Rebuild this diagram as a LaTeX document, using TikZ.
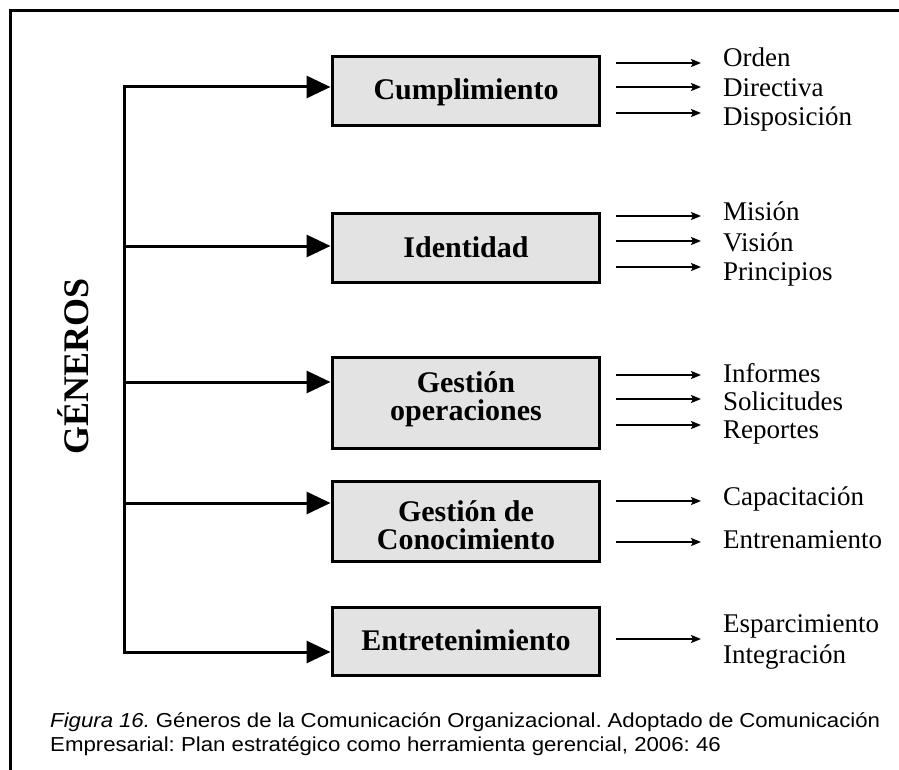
\documentclass[tikz,border=0pt]{standalone}
\usepackage{fontspec}
\setmainfont{Liberation Serif}
\newfontfamily\capfont[FakeStretch=1.1]{Liberation Sans}
\usetikzlibrary{arrows.meta}
\definecolor{boxgray}{HTML}{E3E3E3}
\frenchspacing
\begin{document}
\begin{tikzpicture}[x=1pt,y=-1pt,
  genbox/.style={draw=black, fill=boxgray, line width=3pt, minimum width=267pt, inner sep=0pt},
  boxtxt/.style={anchor=base, inner sep=0pt, font=\bfseries\fontsize{30}{34}\selectfont},
  itemtxt/.style={anchor=base west, inner sep=0pt, font=\fontsize{27}{30}\selectfont},
  bigarrow/.style={line width=3pt, line cap=rect, -{Triangle[length=24pt,width=22pt]}},
  trunkline/.style={line width=3pt, line cap=rect},
  smallarrow/.style={line width=2.2pt, -{Stealth[length=10pt,width=8pt,inset=2pt]}},
  frameline/.style={line width=3pt},
  captxt/.style={anchor=base west, inner sep=0pt, font=\capfont\fontsize{20.2}{24}\selectfont\frenchspacing}
]
\useasboundingbox (0,0) rectangle (899,770);
% frame
\draw[frameline] (10,770) -- (10,11) -- (899,11);

% boxes
\node[genbox, minimum height=69pt] (b1) at (465.5,91.5) {};
\node[genbox, minimum height=69pt] (b2) at (465.5,247.5) {};
\node[genbox, minimum height=91pt] (b3) at (465.5,402.5) {};
\node[genbox, minimum height=80pt] (b4) at (465.5,521) {};
\node[genbox, minimum height=68pt] (b5) at (465.5,641) {};

% box texts
\node[boxtxt] (t1) at (466,100) {Cumplimiento};
\node[boxtxt] (t2) at (466,257) {Identidad};
\node[boxtxt] (t3a) at (466,392) {Gestión};
\node[boxtxt] (t3b) at (466,420) {operaciones};
\node[boxtxt] (t4a) at (466,521) {Gestión de};
\node[boxtxt] (t4b) at (466,549) {Conocimiento};
\node[boxtxt] (t5) at (466,650) {Entretenimiento};

% genre label
\node[rotate=90, anchor=base, inner sep=0pt, font=\bfseries\fontsize{36}{40}\selectfont] (gen) at (88,366) {GÉNEROS};

% trunk and main arrows
\coordinate (c1) at (124,87);
\coordinate (c2) at (124,246);
\coordinate (c3) at (124,382);
\coordinate (c4) at (124,503);
\coordinate (c5) at (124,652);
\draw[trunkline] (c1) -- (c5);
\draw[bigarrow] (c1) -- (b1.west |- c1);
\draw[bigarrow] (c2) -- (b2.west |- c2);
\draw[bigarrow] (c3) -- (b3.west |- c3);
\draw[bigarrow] (c4) -- (b4.west |- c4);
\draw[bigarrow] (c5) -- (b5.west |- c5);

% right items
\node[itemtxt] (i11) at (723,67) {Orden};
\node[itemtxt] (i12) at (723,97) {Directiva};
\node[itemtxt] (i13) at (723,126) {Disposición};
\node[itemtxt] (i21) at (723,221) {Misión};
\node[itemtxt] (i22) at (723,251) {Visión};
\node[itemtxt] (i23) at (723,280) {Principios};
\node[itemtxt] (i31) at (723,382) {Informes};
\node[itemtxt] (i32) at (723,410) {Solicitudes};
\node[itemtxt] (i33) at (723,438) {Reportes};
\node[itemtxt] (i41) at (723,505) {Capacitación};
\node[itemtxt] (i42) at (723,548) {Entrenamiento};
\node[itemtxt] (i51) at (723,632) {Esparcimiento};
\node[itemtxt] (i52) at (723,663) {Integración};

% small arrows
\foreach \n/\yy in {11/63, 12/87, 13/113, 21/216, 22/241, 23/267, 31/375, 32/399, 33/425, 41/501, 42/542, 51/639}{
  \coordinate (s\n) at (616,\yy);
  \coordinate (e\n) at (701,\yy);
  \draw[smallarrow] (s\n) -- (e\n);
}

% caption
\node[captxt] (cap1) at (50,727) {\makebox[830pt][s]{\textit{Figura 16.} Géneros de la Comunicación Organizacional. Adoptado de Comunicación}};
\node[captxt] (cap2) at (50,751) {Empresarial: Plan estratégico como herramienta gerencial, 2006: 46};
\end{tikzpicture}
\end{document}
